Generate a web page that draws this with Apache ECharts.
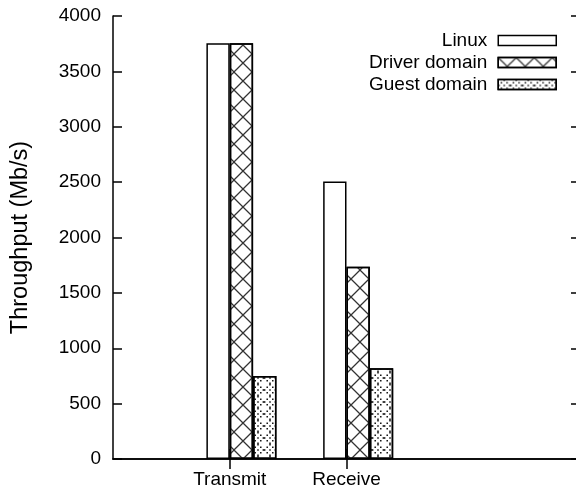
<!DOCTYPE html>
<html><head><meta charset="utf-8">
<script src="https://cdn.jsdelivr.net/npm/echarts@6/dist/echarts.min.js"></script>
<style>html,body{margin:0;padding:0;background:#fff}#c{width:576px;height:492px}</style>
</head><body><div id="c"></div>
<script>
// ---- data ----
const categories = ['Transmit', 'Receive'];
const seriesNames = ['Linux', 'Driver domain', 'Guest domain'];
const linux = [3755, 2505];
const driverDomain = [3755, 1735];
const guestDomain = [750, 820];
const yMin = 0, yMax = 4000, yStep = 500;
const yAxisTitle = 'Throughput (Mb/s)';

// ---- build ----
const FONT = 'Liberation Sans';
const axisCats = [''].concat(categories, ['', '']);
const pad = arr => [null].concat(arr, [null, null]);
const tickShown = (i) => i >= 1 && i <= categories.length;

const crossDecal = {
  symbol: 'path://M0,0L0.9,0L18,17.1L18,18L17.1,18L0,0.9Z M17.1,0L18,0L18,0.9L0.9,18L0,18L0,17.1Z',
  symbolSize: 1, symbolKeepAspect: false, color: '#333',
  dashArrayX: [18, 0], dashArrayY: [18, 0], rotation: 0
};
const dotDecal = {
  symbol: 'path://M5.3,0h1.4v1.4h-1.4Z M10.6,5.3h1.4v1.4h-1.4Z M5.3,10.6h1.4v1.4h-1.4Z M0,5.3h1.4v1.4h-1.4Z M2.5,2.5h1.4v1.4h-1.4Z M8.1,2.5h1.4v1.4h-1.4Z M8.1,8.1h1.4v1.4h-1.4Z M2.5,8.1h1.4v1.4h-1.4Z M5.3,5.3h1.4v1.4h-1.4Z',
  symbolSize: 1, symbolKeepAspect: false, color: '#000',
  dashArrayX: [12, 0], dashArrayY: [12, 0], rotation: 0
};

const barStyle = (decal) => {
  const s = { color: '#fff', borderColor: '#000', borderWidth: 1.5 };
  if (decal) s.decal = decal;
  return s;
};

const mkBar = (name, vals, decal) => ({
  name, type: 'bar', xAxisIndex: 0, yAxisIndex: 0,
  data: pad(vals), barWidth: '20%', barGap: '0%',
  itemStyle: barStyle(decal), emphasis: { disabled: true }, animation: false
});

const chart = echarts.init(document.getElementById('c'), null, { renderer: 'canvas' });
chart.setOption({
  animation: false,
  backgroundColor: '#fff',
  grid: { left: 113, top: 16, width: 467, height: 443, containLabel: false, outerBoundsMode: 'none' },
  legend: {
    data: seriesNames, orient: 'vertical', right: 14, top: 26, align: 'right', icon: 'rect',
    itemWidth: 58, itemHeight: 10, itemGap: 3, selectedMode: false,
    textStyle: { fontFamily: FONT, fontSize: 19, color: '#000', padding: [0, 6, 0, 0] },
    itemStyle: { borderWidth: 1.5 }
  },
  xAxis: [{
    type: 'category', data: axisCats, boundaryGap: false, position: 'bottom',
    axisLine: { lineStyle: { color: '#000', width: 1.5 } },
    axisTick: { inside: true, length: 10, interval: tickShown, lineStyle: { color: '#000', width: 1.5 } },
    axisLabel: { interval: 0, margin: 11, color: '#000', fontFamily: FONT, fontSize: 19 },
    splitLine: { show: false }
  }, {
    type: 'category', data: axisCats, boundaryGap: false, position: 'top',
    axisLine: { lineStyle: { color: '#000', width: 1.5 } },
    axisTick: { inside: true, length: 10, interval: tickShown, lineStyle: { color: '#000', width: 1.5 } },
    axisLabel: { show: false }, splitLine: { show: false }
  }],
  yAxis: [{
    type: 'value', min: yMin, max: yMax, interval: yStep, position: 'left',
    name: yAxisTitle, nameLocation: 'middle', nameGap: 80, nameRotate: 90,
    nameTextStyle: { fontFamily: FONT, fontSize: 23.5, color: '#000' },
    axisLine: { show: true, lineStyle: { color: '#000', width: 1.5 } },
    axisTick: { show: true, inside: true, length: 9, lineStyle: { color: '#000', width: 1.5 } },
    axisLabel: { margin: 12, color: '#000', fontFamily: FONT, fontSize: 19, formatter: v => String(v) },
    splitLine: { show: false }
  }, {
    type: 'value', min: yMin, max: yMax, interval: yStep, position: 'right',
    axisLine: { show: true, lineStyle: { color: '#000', width: 1.5 } },
    axisTick: { show: true, inside: true, length: 9, lineStyle: { color: '#000', width: 1.5 } },
    axisLabel: { show: false }, splitLine: { show: false }
  }],
  series: [
    { name: '_spacer', type: 'bar', data: pad(categories.map(() => null)), barWidth: '20%', barGap: '0%', silent: true, itemStyle: barStyle(null) },
    mkBar(seriesNames[0], linux, null),
    mkBar(seriesNames[1], driverDomain, crossDecal),
    mkBar(seriesNames[2], guestDomain, dotDecal)
  ]
});
</script>
</body></html>
